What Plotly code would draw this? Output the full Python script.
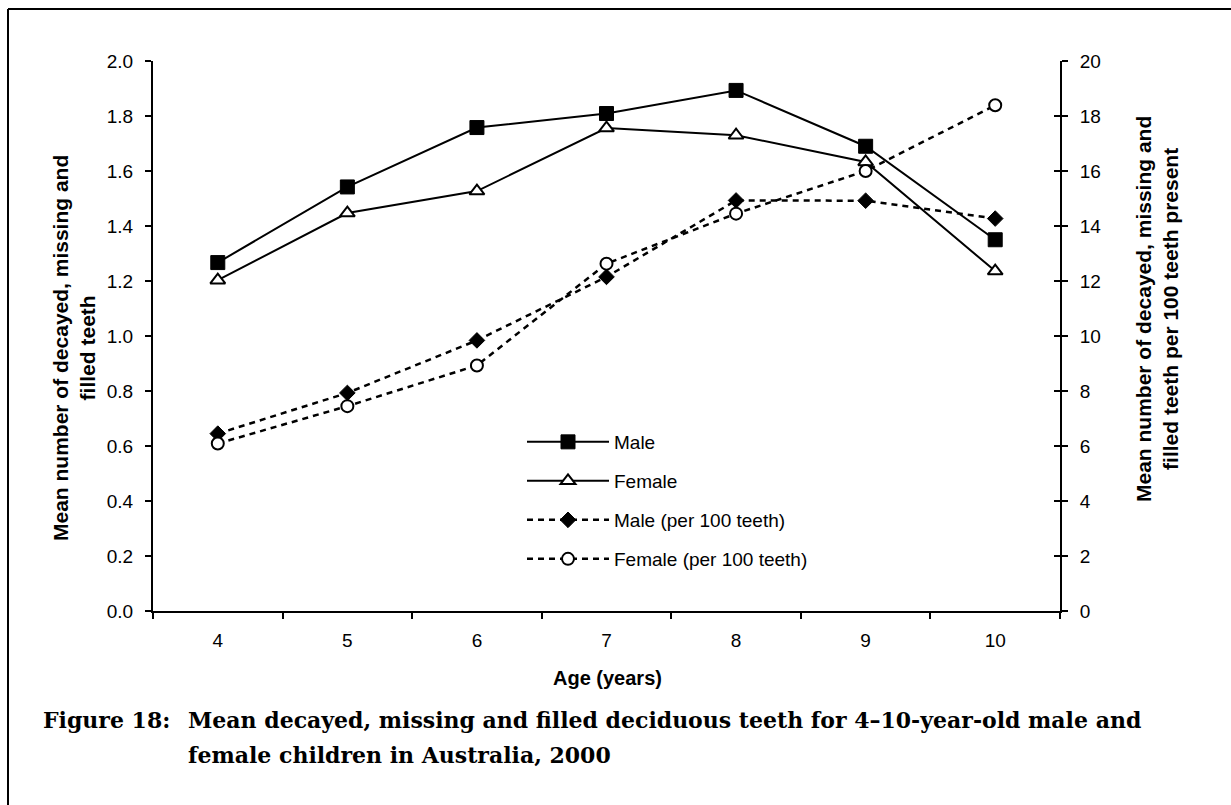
import plotly.graph_objects as go

# ---------------- data ----------------
ages = ["4", "5", "6", "7", "8", "9", "10"]
male = [1.267, 1.542, 1.758, 1.809, 1.893, 1.690, 1.350]
female = [1.203, 1.447, 1.527, 1.756, 1.730, 1.633, 1.236]
male_per100 = [6.45, 7.93, 9.84, 12.15, 14.93, 14.92, 14.27]
female_per100 = [6.09, 7.45, 8.93, 12.63, 14.45, 16.00, 18.39]

left_ticks = [0.0, 0.2, 0.4, 0.6, 0.8, 1.0, 1.2, 1.4, 1.6, 1.8, 2.0]
left_ticktext = ["0.0", "0.2", "0.4", "0.6", "0.8", "1.0", "1.2", "1.4", "1.6", "1.8", "2.0"]
right_ticks = [0, 2, 4, 6, 8, 10, 12, 14, 16, 18, 20]

series_names = ["Male", "Female", "Male (per 100 teeth)", "Female (per 100 teeth)"]

left_title = "Mean number of decayed, missing and<br>filled teeth"
right_title = "Mean number of decayed, missing and<br>filled teeth per 100 teeth present"
x_title = "Age (years)"
caption_label = "Figure 18:"
caption_line1 = "Mean decayed, missing and filled deciduous teeth for 4\u201310-year-old male and"
caption_line2 = "female children in Australia, 2000"

# ---------------- geometry helpers ----------------
W, H = 1231, 805
L, R, T, B = 153, 171, 61, 194
PW, PH = W - L - R, H - T - B


def px(xpix):
    return (xpix - L) / PW


def py(ypix):
    return (H - B - ypix) / PH


SANS = "Liberation Sans, Arial, sans-serif"
SERIF = "DejaVu Serif, serif"

fig = go.Figure()

fig.add_trace(go.Scatter(
    x=ages, y=male, name=series_names[0], legendgroup="a",
    mode="lines+markers", line=dict(color="black", width=2),
    marker=dict(symbol="square", size=14, color="black", line=dict(color="black", width=1)),
))
fig.add_trace(go.Scatter(
    x=ages, y=female, name=series_names[1], legendgroup="b",
    mode="lines+markers", line=dict(color="black", width=2),
    marker=dict(symbol="triangle-up", size=13, color="white", line=dict(color="black", width=2)),
))
fig.add_trace(go.Scatter(
    x=ages, y=male_per100, name=series_names[2], legendgroup="c", yaxis="y2",
    mode="lines+markers", line=dict(color="black", width=2.5, dash="6px,5px"),
    marker=dict(symbol="diamond", size=12, color="black", line=dict(color="black", width=1)),
))
fig.add_trace(go.Scatter(
    x=ages, y=female_per100, name=series_names[3], legendgroup="d", yaxis="y2",
    mode="lines+markers", line=dict(color="black", width=2.5, dash="6px,5px"),
    marker=dict(symbol="circle", size=12, color="white", line=dict(color="black", width=2)),
))

axis_common = dict(showgrid=False, zeroline=False, showline=True, linecolor="black",
                   linewidth=2, ticks="outside", ticklen=6, tickwidth=2, tickcolor="black",
                   tickfont=dict(family=SANS, size=19, color="black"))

fig.update_layout(
    width=W, height=H,
    margin=dict(l=L, r=R, t=T, b=B, pad=0),
    paper_bgcolor="white", plot_bgcolor="white",
    font=dict(family=SANS, color="black"),
    showlegend=True,
    legend=dict(x=px(522), y=py(423), xanchor="left", yanchor="top",
                font=dict(family=SANS, size=19, color="black"),
                bgcolor="rgba(0,0,0,0)", tracegroupgap=11.3, itemwidth=82,
                traceorder="grouped"),
    xaxis=dict(type="category", range=[-0.5, 6.5], tickson="boundaries",
               ticklabelstandoff=11, **axis_common),
    yaxis=dict(range=[0, 2], tickvals=left_ticks, ticktext=left_ticktext,
               ticklabelstandoff=8, **axis_common),
    yaxis2=dict(range=[0, 20], tickvals=right_ticks, overlaying="y", side="right",
                anchor="x", ticklabelstandoff=8, **axis_common),
    yaxis3=dict(range=[0, 20], tickvals=right_ticks, overlaying="y", side="right",
                anchor="x", showgrid=False, zeroline=False, showline=False,
                ticks="inside", ticklen=6, tickwidth=2, tickcolor="black",
                showticklabels=False),
)

# invisible trace to register yaxis3 (crossing tick marks on the right axis)
fig.add_trace(go.Scatter(x=ages, y=male_per100, yaxis="y3", mode="none",
                         showlegend=False, hoverinfo="skip"))

annotations = [
    dict(text="<b>" + left_title + "</b>", x=px(74), y=py(348), xref="paper", yref="paper",
         textangle=-90, showarrow=False, xanchor="center", yanchor="middle",
         font=dict(family=SANS, size=21, color="black")),
    dict(text="<b>" + right_title + "</b>", x=px(1157), y=py(309), xref="paper", yref="paper",
         textangle=-90, showarrow=False, xanchor="center", yanchor="middle",
         font=dict(family=SANS, size=21, color="black")),
    dict(text="<b>" + x_title + "</b>", x=px(607), y=py(678), xref="paper", yref="paper",
         showarrow=False, xanchor="center", yanchor="middle",
         font=dict(family=SANS, size=20, color="black")),
    dict(text="<b>" + caption_label + "</b>", x=px(172), y=py(720), xref="paper", yref="paper",
         showarrow=False, xanchor="right", yanchor="middle",
         font=dict(family=SERIF, size=22, color="black")),
    dict(text="<b>" + caption_line1 + "</b>", x=px(186), y=py(720), xref="paper", yref="paper",
         showarrow=False, xanchor="left", yanchor="middle",
         font=dict(family=SERIF, size=22, color="black")),
    dict(text="<b>" + caption_line2 + "</b>", x=px(186), y=py(755), xref="paper", yref="paper",
         showarrow=False, xanchor="left", yanchor="middle",
         font=dict(family=SERIF, size=22, color="black")),
]
fig.update_layout(annotations=annotations)

# outer frame (top and left edges of the figure box)
fig.add_shape(type="line", xref="paper", yref="paper", x0=px(8), x1=px(W + 5),
              y0=py(9), y1=py(9), line=dict(color="black", width=2))
fig.add_shape(type="line", xref="paper", yref="paper", x0=px(8), x1=px(8),
              y0=py(9), y1=py(H + 5), line=dict(color="black", width=2))

fig.write_html("out.html", config={"displayModeBar": False},
               post_script="document.body.style.margin='0px';")
